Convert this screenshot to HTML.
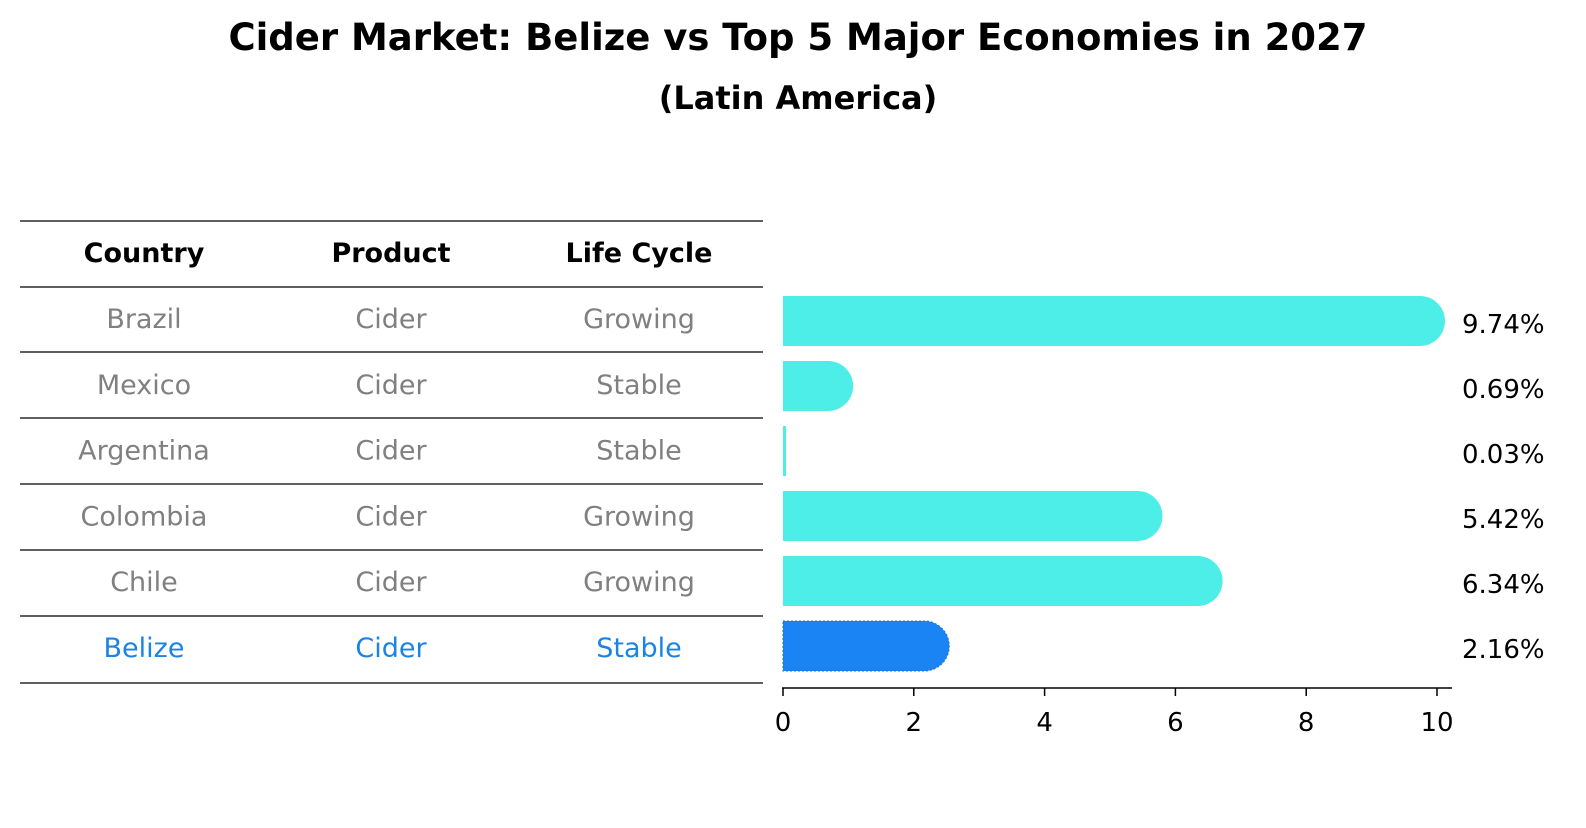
<!DOCTYPE html>
<html><head><meta charset="utf-8"><style>
body{margin:0;background:#fff;font-family:"Liberation Sans","DejaVu Sans",sans-serif;}
</style></head><body>
<svg width="1586" height="823" xmlns="http://www.w3.org/2000/svg" font-family="DejaVu Sans, Liberation Sans, sans-serif">
<text x="798" y="50" text-anchor="middle" font-size="37" font-weight="bold">Cider Market: Belize vs Top 5 Major Economies in 2027</text>
<text x="798" y="109" text-anchor="middle" font-size="32" font-weight="bold">(Latin America)</text>
<g id="table"></g>
<g id="bars"></g>
</svg>
<script>
const countries=["Brazil","Mexico","Argentina","Colombia","Chile","Belize"];
const products=["Cider","Cider","Cider","Cider","Cider","Cider"];
const lifeCycles=["Growing","Stable","Stable","Growing","Growing","Stable"];
const values=[9.74,0.69,0.03,5.42,6.34,2.16];
const valueLabels=["9.74%","0.69%","0.03%","5.42%","6.34%","2.16%"];
const ticks=[0,2,4,6,8,10];
const NS="http://www.w3.org/2000/svg";
function mk(tag,attrs,parent,txt){const e=document.createElementNS(NS,tag);for(const k in attrs)e.setAttribute(k,attrs[k]);if(txt!==undefined)e.textContent=txt;parent.appendChild(e);return e;}
const x=v=>783+v*65.4;
const rowY=i=>321+i*65;
const tbl=document.getElementById('table');
const lines=[221,287,352,418,484,550,616,683];
lines.forEach(y=>{const l=mk('line',{x1:20,x2:763,y1:y,y2:y,stroke:'#000','stroke-width':1.2},tbl);});
const cols=[144,391,639];
["Country","Product","Life Cycle"].forEach((h,j)=>{const t=mk('text',{x:cols[j],y:262,'text-anchor':'middle','font-size':27,'font-weight':'bold'},tbl,h);});
const textY=[318,384,450,515,581,647];
countries.forEach((c,i)=>{
  const col=i===countries.length-1?'#1a84e6':'#808080';
  [c,products[i],lifeCycles[i]].forEach((v,j)=>{const t=mk('text',{x:cols[j],y:textY[0]+i*65.8+10,'text-anchor':'middle','font-size':27,fill:col},tbl,v);});
});
const g=document.getElementById('bars');
values.forEach((v,i)=>{
  const yc=rowY(i);const h=50;const belize=i===values.length-1;
  const fill=belize?'#1a84f5':'#4deee8';
  let d;
  if(v>0.1){d=`M${x(0)},${yc-h/2} H${x(v)} A${h/2},${h/2} 0 0 1 ${x(v)},${yc+h/2} H${x(0)} Z`;}
  else{d=`M${x(0)},${yc-h/2} H${x(0)+3} V${yc+h/2} H${x(0)} Z`;}
  const p=mk('path',{d:d,fill:fill},g);
  if(belize){p.setAttribute('stroke','#1470d0');p.setAttribute('stroke-dasharray','2,2');p.setAttribute('stroke-width','1');}
  
  
  const t=mk('text',{x:1462,y:yc+12,'font-size':26},g,valueLabels[i]);
  
  
});
const ax=mk('line',{x1:782,x2:1452,y1:688,y2:688,stroke:'#000','stroke-width':1.5},g);


ticks.forEach(tv=>{
  const l=mk('line',{x1:x(tv),x2:x(tv),y1:688,y2:696,stroke:'#000','stroke-width':1.5},g);
  
  
  const t=mk('text',{x:x(tv),y:731,'text-anchor':'middle','font-size':26},g,String(tv));
  
  
});
</script>
</body></html>
